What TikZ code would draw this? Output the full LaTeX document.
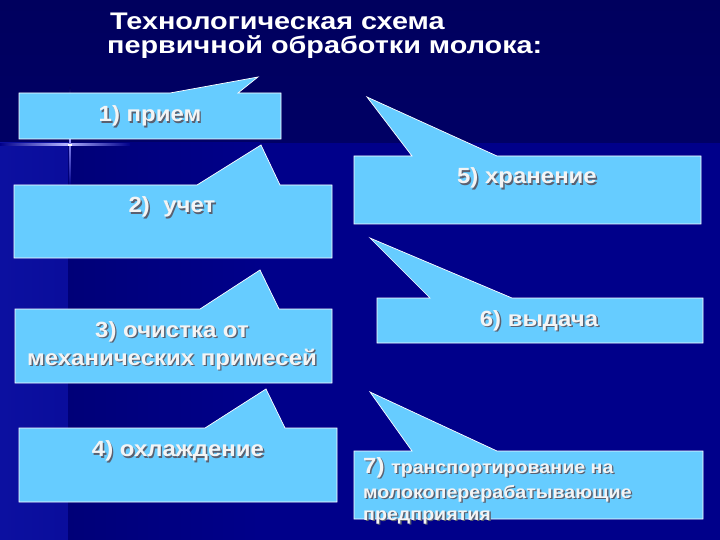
\documentclass[tikz,border=0pt]{standalone}
\usepackage{fontspec}
\setmainfont{Liberation Sans}
\newfontfamily\titlefont[FakeStretch=1.2]{Liberation Sans}
\newfontfamily\boxfont[FakeStretch=1.09]{Liberation Sans}
\definecolor{navyA}{HTML}{00008A}
\definecolor{navyTop}{HTML}{00005E}
\definecolor{navyLeft}{HTML}{0C10A0}
\definecolor{navyMid}{HTML}{000078}
\definecolor{boxfill}{HTML}{66CCFF}
\definecolor{txtwhite}{HTML}{F4F4F4}
\definecolor{txtshadow}{HTML}{5A6070}
\tikzset{
  callout/.style={fill=boxfill, draw=white, line width=0.7pt, line join=miter},
  boxtxt/.style={inner sep=0pt, text=txtwhite, font=\boxfont\fontsize{22}{28}\selectfont\bfseries, align=center},
  boxshadow/.style={boxtxt, text=txtshadow, xshift=1.4pt, yshift=-1.4pt},
  titletxt/.style={inner sep=0pt, text=white, font=\titlefont\fontsize{24}{24}\selectfont\bfseries, anchor=base west}
}
\newcommand{\shtext}[4]{%
  \node[boxshadow,#2] at (#3) {#4};
  \node[boxtxt,#2] (#1) at (#3) {#4};}
\begin{document}
\begin{tikzpicture}[x=1pt,y=-1pt]
\useasboundingbox (0,0) rectangle (720,540);
% background
\fill[navyA] (0,0) rectangle (720,540);
\shade[top color=navyTop, bottom color=navyTop!85!navyA] (0,0) rectangle (720,143);
\shade[left color=navyLeft, right color=navyLeft!80!navyA] (0,143) rectangle (68,540);
\shade[left color=navyMid, right color=navyA] (68,143) rectangle (260,540);
% glint
\shade[left color=navyA, right color=navyA, middle color=white!70!blue] (0,144) rectangle (130,146);
\shade[top color=navyTop, bottom color=navyA, middle color=white!60!blue] (69.2,88) rectangle (70.8,185);
\fill[white] (68,144.3) rectangle (72,145.7);
% title
\node[titletxt] (title1) at (110,30) {Технологическая схема};
\node[titletxt] (title2) at (107,54) {первичной обработки молока:};
% callouts
\path[callout] (19,93) -- (170,93) -- (258,77) -- (238,93) -- (281,93) -- (281,139) -- (19,139) -- cycle;
\path[callout] (14,185) -- (197,185) -- (261,145) -- (280,185) -- (332,185) -- (332,258) -- (14,258) -- cycle;
\path[callout] (15,309) -- (200,309) -- (260,270) -- (279,309) -- (332,309) -- (332,383) -- (15,383) -- cycle;
\path[callout] (19,428) -- (205,428) -- (266,389) -- (285,428) -- (337,428) -- (337,502) -- (19,502) -- cycle;
\path[callout] (354,156) -- (412,156) -- (367,97) -- (497,156) -- (701,156) -- (701,224) -- (354,224) -- cycle;
\path[callout] (377,298) -- (430,298) -- (370,238) -- (512,298) -- (703,298) -- (703,343) -- (377,343) -- cycle;
\path[callout] (354,451) -- (412,451) -- (370,392) -- (497,451) -- (703,451) -- (703,519) -- (354,519) -- cycle;
% texts
\shtext{t1}{anchor=base}{150,122}{1) прием}
\shtext{t2}{anchor=base}{172,212.7}{2)\ \ учет}
\shtext{t5}{anchor=base}{527,184}{5) хранение}
\shtext{t3a}{anchor=base}{172,337}{3) очистка от}
\shtext{t3b}{anchor=base}{172,365}{механических примесей}
\shtext{t4}{anchor=base}{178,456.7}{4) охлаждение}
\shtext{t6}{anchor=base}{539,326}{6) выдача}
\shtext{t7a}{anchor=base west}{363,473.3}{7) {\fontsize{18}{20}\selectfont транспортирование на}}
\shtext{t7b}{anchor=base west, font=\boxfont\fontsize{18}{20}\selectfont\bfseries}{363,498}{молокоперерабатывающие}
\shtext{t7c}{anchor=base west, font=\boxfont\fontsize{18}{20}\selectfont\bfseries}{363,520}{предприятия}
\end{tikzpicture}
\end{document}
